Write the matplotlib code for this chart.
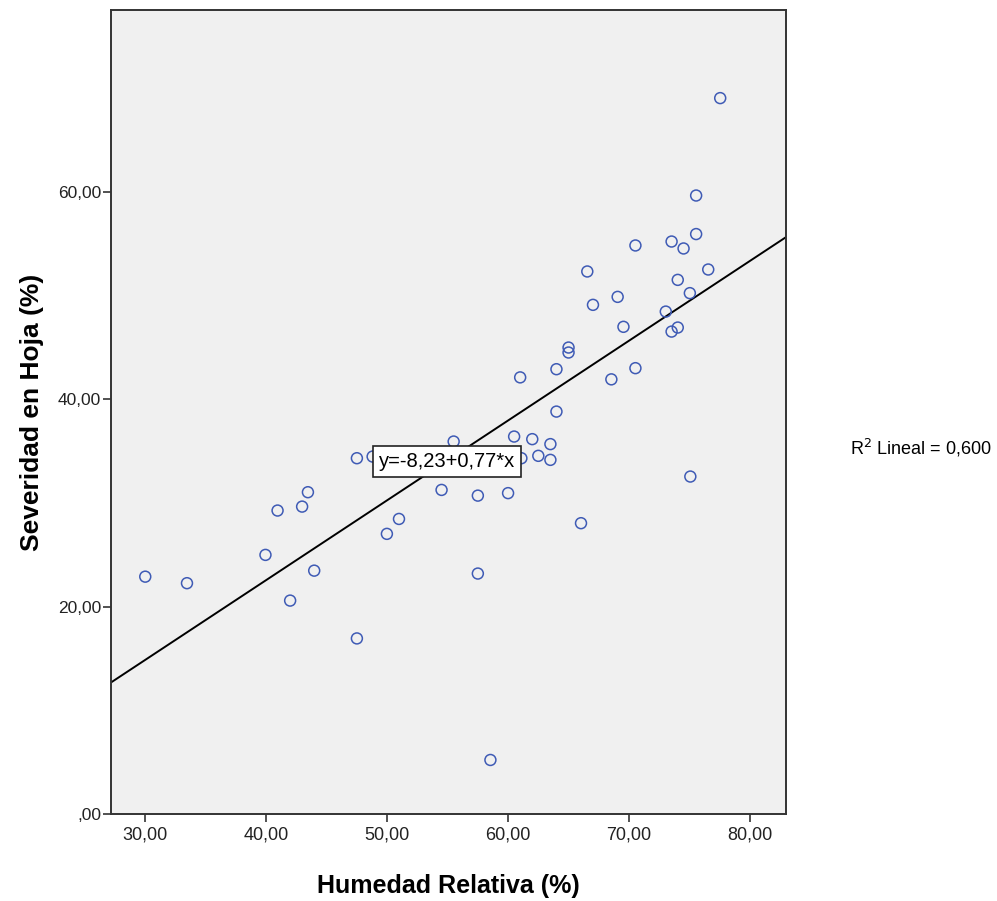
import matplotlib
matplotlib.use("Agg")
import matplotlib.pyplot as plt
import numpy as np
from matplotlib.ticker import FuncFormatter

plt.rcParams['font.family'] = ['Liberation Sans', 'DejaVu Sans']

humedad = [77.54, 75.55, 75.55, 70.53, 73.52, 74.51, 66.55, 76.55, 74.03, 75.03,
           69.06, 67.02, 73.04, 69.54, 74.03, 73.52, 65.0, 65.0, 64.0, 70.53,
           61.0, 68.54, 64.0, 60.5, 62.0, 63.5, 55.5, 47.5, 48.8, 61.1,
           62.5, 63.5, 75.07, 54.5, 57.5, 60.0, 43.45, 42.97, 40.94, 50.98,
           49.98, 66.03, 39.94, 30.0, 33.45, 43.97, 57.5, 41.98, 47.5, 58.54]
severidad = [69.08, 59.68, 55.96, 54.86, 55.24, 54.57, 52.35, 52.54, 51.54, 50.26,
             49.9, 49.13, 48.48, 47.01, 46.94, 46.55, 45.01, 44.53, 42.92, 43.02,
             42.13, 41.94, 38.83, 36.42, 36.17, 35.69, 35.94, 34.33, 34.49, 34.33,
             34.56, 34.17, 32.56, 31.27, 30.72, 30.96, 31.05, 29.66, 29.28, 28.47,
             27.03, 28.06, 25.0, 22.9, 22.27, 23.48, 23.2, 20.59, 16.94, 5.21]

intercept = -8.23
slope = 0.77
r2 = 0.600
x_ticks = [30, 40, 50, 60, 70, 80]
y_ticks = [0, 20, 40, 60]

fig = plt.figure(figsize=(9.97, 9.01), dpi=100)
ax = fig.add_axes([0.111, 0.0966, 0.677, 0.8925])
ax.set_facecolor('#F0F0F0')

xlim = (27.14, 82.95)
ylim = (0, 77.6)
ax.set_xlim(*xlim)
ax.set_ylim(*ylim)

ax.scatter(humedad, severidad, s=62, facecolors='none', edgecolors='#3F5BB5',
           linewidths=1.1, zorder=3)

xl = np.array(xlim)
ax.plot(xl, intercept + slope * xl, color='black', lw=1.4, zorder=2)

def fmt(v, pos):
    s = f"{v:.2f}".replace('.', ',')
    if s.startswith('0,'):
        s = s[1:]
    return s

ax.set_xticks(x_ticks)
ax.set_yticks(y_ticks)
ax.xaxis.set_major_formatter(FuncFormatter(fmt))
ax.yaxis.set_major_formatter(FuncFormatter(fmt))
ax.tick_params(axis='both', direction='out', length=6, width=1.2, color='#333333',
               labelsize=12.5, labelcolor='#222222')
ax.tick_params(axis='x', pad=3, labelsize=13)
ax.tick_params(axis='y', pad=1)

for sp in ax.spines.values():
    sp.set_color('#333333')
    sp.set_linewidth(1.4)

ax.set_xlabel('Humedad Relativa (%)', fontsize=18, fontweight='bold', labelpad=22)
ax.set_ylabel('Severidad en Hoja (%)', fontsize=19, fontweight='bold', labelpad=10)

eq = f"y={intercept:.2f}+{slope:.2f}*x".replace('.', ',')
ax.text(54.93, 33.98, eq, fontsize=14.5, ha='center', va='center', zorder=5,
        linespacing=1.6,
        bbox=dict(boxstyle='square,pad=0.3', facecolor='white', edgecolor='#222222', lw=1.2))

fig.text(0.853, 0.503, r'R$^2$ Lineal = ' + f"{r2:.3f}".replace('.', ','),
         fontsize=13, ha='left', va='center')

fig.savefig('out.png', dpi=100)
